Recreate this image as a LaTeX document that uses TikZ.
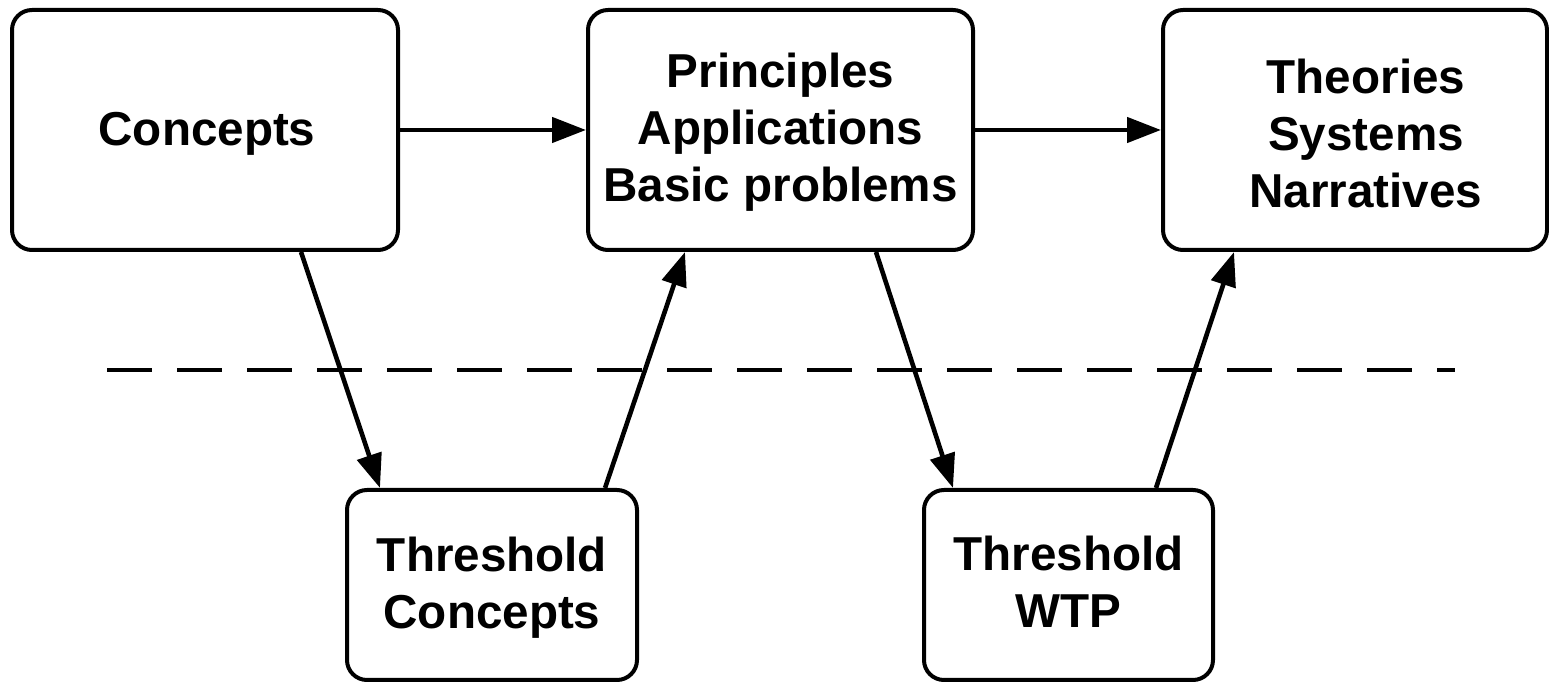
\documentclass[tikz,border=0pt]{standalone}
\usepackage{fontspec}
\setmainfont{Liberation Sans}
\usetikzlibrary{arrows.meta,calc}
\begin{document}
\begin{tikzpicture}[x=0.5pt,y=-0.5pt,
  box/.style={draw=black,line width=2pt,rounded corners=10pt,inner sep=0pt,align=center,
    font=\fontsize{23.8}{28.5}\selectfont\bfseries},
  lbl/.style={inner sep=0pt,align=center,font=\fontsize{23.8}{28.5}\selectfont\bfseries},
  conn/.style={line width=2.3pt,-{Triangle[length=17pt,width=12.5pt]}},
  sep/.style={line width=2.2pt,dash pattern=on 22.5pt off 12.5pt}]
\useasboundingbox (0,0) rectangle (1549,683);
\node[box,minimum width=193pt,minimum height=120pt] (c) at (205,130) {};
\node[lbl] (ct) at (207,134) {Concepts};
\node[box,minimum width=192.5pt,minimum height=120pt] (p) at (780.5,130) {};
\node[lbl] (pt) at (780.5,132) {Principles\\Applications\\Basic problems};
\node[box,minimum width=192pt,minimum height=120pt] (t) at (1355,130) {};
\node[lbl] (tt) at (1366,133) {Theories\\Systems\\Narratives};
\node[box,minimum width=145pt,minimum height=95pt] (tc) at (492,585) {};
\node[lbl] (tct) at (492,588) {Threshold\\Concepts};
\node[box,minimum width=144.5pt,minimum height=95pt] (tw) at (1068.5,585) {};
\node[lbl] (twt) at (1068.5,582) {Threshold\\WTP};
\coordinate (d1) at (107,370);
\coordinate (d2) at (1455,370);
\draw[sep] (d1) -- (d2);
\draw[conn] (c.east) -- (p.west);
\draw[conn] (p.east) -- (t.west);
\draw[conn] ($(c.south west)+(291,0)$) -- ($(tc.north west)+(35,0)$);
\draw[conn] ($(tc.north west)+(260,0)$) -- ($(p.south west)+(99,0)$);
\draw[conn] ($(p.south west)+(290,0)$) -- ($(tw.north west)+(31,0)$);
\draw[conn] ($(tw.north west)+(234,0)$) -- ($(t.south west)+(73,0)$);
\end{tikzpicture}
\end{document}
